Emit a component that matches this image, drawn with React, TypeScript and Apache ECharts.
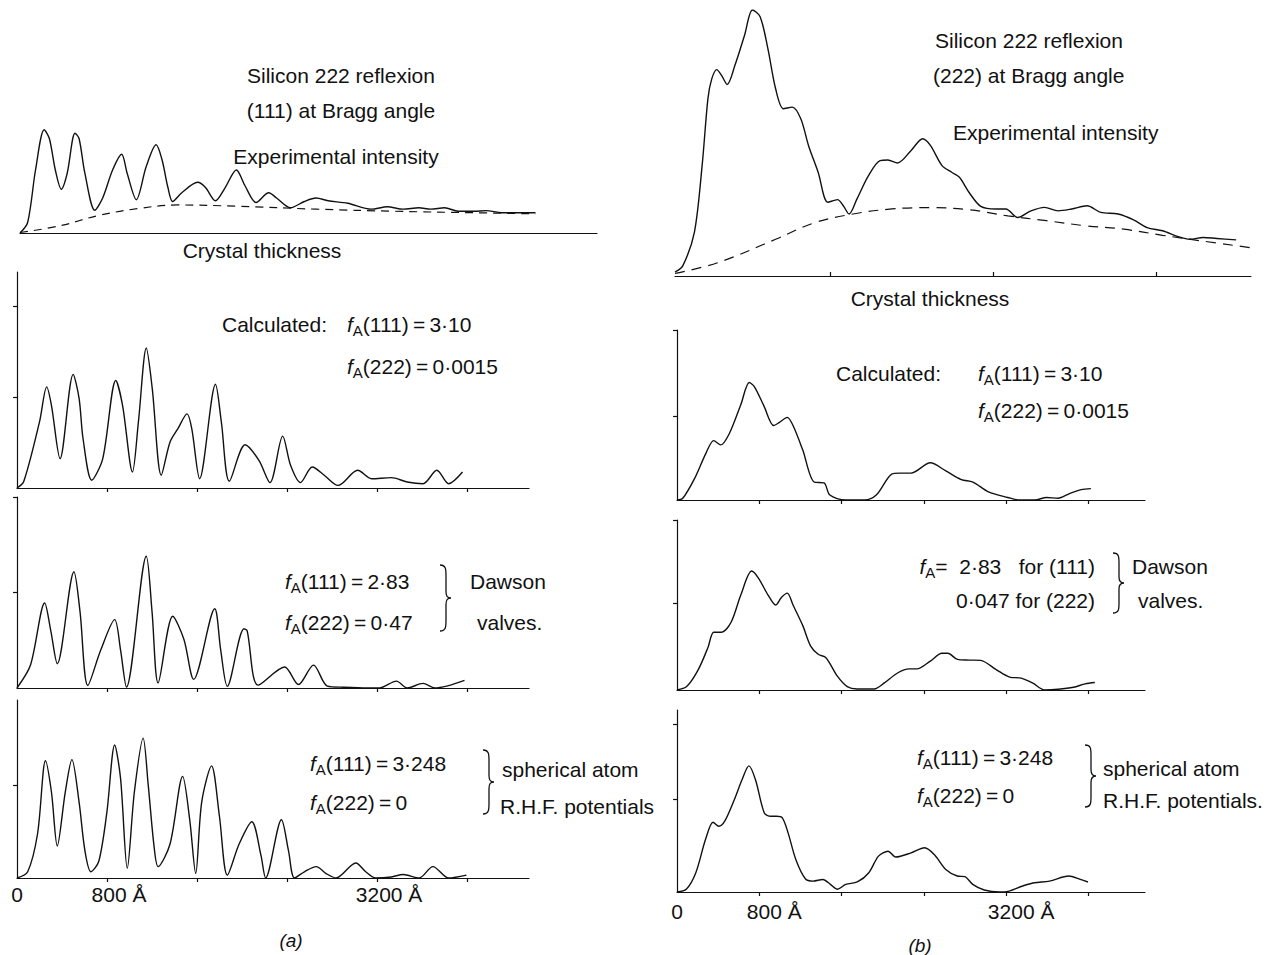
import React, { useEffect, useRef } from "react";
import * as echarts from "echarts";

// ---------- data (x in Å, y = relative intensity, 1 = top of the panel's axis) ----------
const expLeft = [
  [0, 0], [68, 0.1], [138, 0.6], [215, 0.983], [261, 0.9], [314, 0.6], [367, 0.417], [419, 0.567],
  [489, 0.95], [525, 0.9], [577, 0.567], [665, 0.217], [735, 0.333], [823, 0.6], [904, 0.75],
  [953, 0.567], [1034, 0.317], [1122, 0.633], [1210, 0.84], [1262, 0.7], [1315, 0.433], [1357, 0.3],
  [1438, 0.383], [1579, 0.483], [1649, 0.433], [1737, 0.307], [1824, 0.433], [1923, 0.6], [2000, 0.45],
  [2099, 0.29], [2211, 0.383], [2281, 0.333], [2404, 0.24], [2527, 0.3], [2632, 0.333], [2738, 0.307],
  [2913, 0.283], [3124, 0.227], [3265, 0.25], [3405, 0.227], [3546, 0.24], [3651, 0.227], [3774, 0.24],
  [3897, 0.207], [4038, 0.207], [4143, 0.213], [4284, 0.193], [4582, 0.193],
];
const expLeftBackground = [
  [0, 0.005], [349, 0.067], [700, 0.167], [1052, 0.233], [1403, 0.267], [1930, 0.255], [2632, 0.227],
  [3335, 0.207], [4038, 0.193], [4582, 0.183],
];
const calcLeft = [
  [0, 0], [60, 0.03], [200, 0.306], [264, 0.468], [306, 0.383], [383, 0.136], [499, 0.526], [552, 0.414],
  [587, 0.228], [664, 0.036], [762, 0.136], [878, 0.498], [938, 0.383], [1026, 0.074], [1079, 0.306],
  [1149, 0.648], [1202, 0.46], [1282, 0.059], [1360, 0.213], [1430, 0.275], [1511, 0.343], [1553, 0.275],
  [1623, 0.043], [1764, 0.48], [1816, 0.306], [1887, 0.031], [2027, 0.2], [2150, 0.128], [2248, 0.025],
  [2361, 0.24], [2431, 0.105], [2519, 0.025], [2624, 0.097], [2730, 0.059], [2853, 0.012], [3028, 0.082],
  [3151, 0.043], [3327, 0.048], [3467, 0.028], [3608, 0.02], [3731, 0.082], [3836, 0.02], [3959, 0.074],
];
const dawsonLeft = [
  [0, 0], [120, 0.12], [246, 0.445], [300, 0.3], [358, 0.127], [506, 0.609], [560, 0.4], [629, 0.013],
  [745, 0.2], [868, 0.358], [920, 0.2], [973, 0.005], [1149, 0.69], [1200, 0.4], [1254, 0.027], [1384, 0.376],
  [1483, 0.255], [1570, 0.045], [1757, 0.415], [1810, 0.2], [1869, 0.009], [2017, 0.31], [2045, 0.3],
  [2143, 0.015], [2378, 0.11], [2501, 0.018], [2635, 0.12], [2758, 0.01], [2905, 0.004], [3116, 0.0],
  [3221, 0.0], [3372, 0.036], [3467, 0.0], [3608, 0.024], [3713, 0.0], [3977, 0.04],
];
const rhfLeft = [
  [0, 0], [95, 0.035], [183, 0.25], [253, 0.659], [306, 0.483], [358, 0.18], [429, 0.483], [488, 0.665],
  [552, 0.425], [604, 0.152], [657, 0.035], [727, 0.094], [798, 0.366], [868, 0.747], [920, 0.561],
  [980, 0.055], [1043, 0.483], [1121, 0.786], [1166, 0.523], [1219, 0.172], [1254, 0.064], [1360, 0.191],
  [1472, 0.571], [1535, 0.327], [1588, 0.025], [1641, 0.425], [1729, 0.63], [1799, 0.347], [1869, 0.016],
  [1974, 0.191], [2087, 0.316], [2168, 0.127], [2210, 0.0], [2350, 0.327], [2413, 0.152], [2466, 0.0],
  [2554, 0.035], [2659, 0.064], [2747, 0.025], [2835, 0.0], [3011, 0.084], [3099, 0.035], [3186, 0.0],
  [3327, 0.006], [3432, 0.02], [3573, 0.0], [3696, 0.064], [3836, 0.0], [3994, 0.016],
];
const expRight = [
  [0, 0.015], [76, 0.038], [190, 0.164], [266, 0.415], [323, 0.667], [361, 0.742], [410, 0.776], [455, 0.755],
  [512, 0.72], [588, 0.792], [683, 0.906], [759, 1.0], [835, 0.975], [911, 0.855], [987, 0.704], [1063, 0.629],
  [1150, 0.635], [1234, 0.591], [1310, 0.49], [1404, 0.39], [1499, 0.277], [1594, 0.287], [1651, 0.264],
  [1708, 0.233], [1784, 0.289], [1898, 0.377], [2012, 0.434], [2088, 0.436], [2183, 0.425], [2316, 0.472],
  [2429, 0.516], [2505, 0.491], [2619, 0.415], [2714, 0.39], [2790, 0.371], [2885, 0.314], [2999, 0.262],
  [3151, 0.252], [3246, 0.252], [3360, 0.22], [3492, 0.245], [3625, 0.258], [3758, 0.245], [3891, 0.252],
  [4043, 0.264], [4176, 0.239], [4346, 0.233], [4498, 0.211], [4631, 0.182], [4783, 0.17], [4935, 0.148],
  [5049, 0.138], [5182, 0.145], [5314, 0.141], [5504, 0.136],
];
const expRightBackground = [
  [0, 0.01], [418, 0.05], [987, 0.138], [1367, 0.2], [1746, 0.233], [2126, 0.252], [2505, 0.257],
  [2885, 0.249], [3265, 0.226], [3644, 0.208], [4024, 0.189], [4403, 0.176], [4783, 0.153], [5163, 0.132],
  [5637, 0.107],
];
const calcRight = [
  [0, 0], [56, 0.01], [169, 0.124], [282, 0.276], [357, 0.349], [425, 0.324], [508, 0.39], [621, 0.562],
  [703, 0.691], [752, 0.667], [846, 0.552], [940, 0.438], [997, 0.457], [1072, 0.486], [1128, 0.438],
  [1222, 0.295], [1335, 0.105], [1429, 0.101], [1486, 0.029], [1636, 0.0], [1824, 0.0], [1937, 0.029],
  [2087, 0.152], [2163, 0.158], [2275, 0.158], [2463, 0.219], [2614, 0.171], [2764, 0.12], [2877, 0.105],
  [3028, 0.048], [3216, 0.015], [3328, 0.0], [3479, 0.0], [3592, 0.015], [3705, 0.01], [3817, 0.038],
  [3930, 0.061], [4024, 0.067],
];
const dawsonRight = [
  [0, 0], [94, 0.02], [207, 0.12], [301, 0.25], [357, 0.34], [432, 0.34], [527, 0.4], [621, 0.56],
  [726, 0.7], [790, 0.66], [884, 0.56], [959, 0.5], [1015, 0.544], [1072, 0.57], [1128, 0.5], [1222, 0.38],
  [1298, 0.26], [1373, 0.21], [1448, 0.19], [1561, 0.08], [1655, 0.02], [1749, 0.006], [1918, 0.006],
  [2012, 0.04], [2144, 0.1], [2257, 0.124], [2332, 0.124], [2463, 0.17], [2576, 0.216], [2633, 0.216],
  [2727, 0.18], [2840, 0.176], [2952, 0.174], [3103, 0.12], [3234, 0.076], [3347, 0.07], [3460, 0.04],
  [3573, 0.0], [3705, 0.004], [3855, 0.016], [3968, 0.036], [4062, 0.044],
];
const rhfRight = [
  [0, 0], [90, 0.015], [183, 0.106], [277, 0.288], [351, 0.383], [407, 0.361], [464, 0.389], [557, 0.507],
  [632, 0.617], [699, 0.693], [763, 0.617], [849, 0.434], [912, 0.416], [968, 0.416], [1024, 0.407],
  [1080, 0.325], [1155, 0.179], [1248, 0.073], [1323, 0.06], [1417, 0.069], [1491, 0.042], [1559, 0.015],
  [1641, 0.042], [1753, 0.055], [1865, 0.106], [1959, 0.197], [2052, 0.224], [2127, 0.192], [2276, 0.215],
  [2407, 0.243], [2501, 0.206], [2613, 0.124], [2725, 0.088], [2800, 0.084], [2875, 0.042], [2987, 0.011],
  [3136, 0.0], [3230, 0.005], [3361, 0.033], [3473, 0.051], [3622, 0.06], [3809, 0.088], [3921, 0.069],
  [3996, 0.055],
];

// tick positions and labels
const thicknessTicks = [800, 1600, 2400, 3200, 4000];
const topRightTicks = [1518, 3120, 4718];
const bottomLabelValues = [0, 800, 3200];
const bottomLabelTexts = ["0", "800 Å", "3200 Å"];
const yTicksLeft = [[0.42, 0.84], [0.5, 1], [0.52]];
const yTicksRight = [[0.49, 1], [0.51, 1], [0.51, 0.92]];

// ---------- shapes ----------
const BRACE_D =
  "M0,0 C6,0 6,4 6,10 L6,24 C6,28 7,30 11,30 C7,30 6,32 6,36 L6,50 C6,56 6,60 0,60";
echarts.graphic.registerShape("brace", echarts.graphic.extendPath(BRACE_D, {}));

const FONT = '"Liberation Sans", Arial, Helvetica, sans-serif';
const INK = "#111111";
const FS = 21;
const EQ = "\u2009=\u2009";

const richFA = {
  f: { fontFamily: FONT, fontStyle: "italic", fontSize: FS, lineHeight: 28, fill: INK },
  s: { fontFamily: FONT, fontSize: 15, lineHeight: 15, verticalAlign: "bottom", fill: INK },
  n: { fontFamily: FONT, fontSize: FS, lineHeight: 28, fill: INK },
};

function fa(rest: string) {
  return "{f|f}{s|A}{n|" + rest + "}";
}

function txt(text: string, x: number, y: number, align = "left", extra: any = {}) {
  return {
    type: "text",
    x,
    y,
    silent: true,
    style: {
      text,
      fill: INK,
      fontFamily: FONT,
      fontSize: FS,
      align,
      verticalAlign: "middle",
      ...extra,
    },
  };
}
function ftxt(rest: string, x: number, y: number, align = "left") {
  return txt(fa(rest), x, y, align, { rich: richFA });
}
function brace(x: number, y: number, h: number) {
  return {
    type: "brace",
    x,
    y,
    scaleY: h / 60,
    silent: true,
    style: { stroke: INK, fill: "none", lineWidth: 1.3 },
  };
}

export default function App() {
  const ref = useRef<HTMLDivElement>(null);

  useEffect(() => {
    if (!ref.current) return;
    const chart = echarts.init(ref.current, null, { renderer: "svg" });

    const grids = [
      { left: 20, top: 128, width: 577, height: 105 },
      { left: 17, top: 272, width: 512, height: 216 },
      { left: 17, top: 497, width: 512, height: 191 },
      { left: 17, top: 700, width: 512, height: 178 },
      { left: 675, top: 10, width: 576, height: 266 },
      { left: 677, top: 330, width: 468, height: 170 },
      { left: 677, top: 520, width: 468, height: 170 },
      { left: 677, top: 710, width: 468, height: 182 },
    ];
    const xMax = [5129, 4550, 4550, 4550, 5650, 4550, 4550, 4550];
    const axisLineStyle = { color: INK, width: 1.2 };

    const xAxes = grids.map((_, i) => {
      const isTop = i === 0 || i === 4;
      const isBottom = i === 3 || i === 7;
      const ticks = i === 0 ? [] : i === 4 ? topRightTicks : thicknessTicks;
      return {
        gridIndex: i,
        type: "value",
        min: 0,
        max: xMax[i],
        axisLine: { show: true, onZero: false, lineStyle: axisLineStyle },
        axisTick: {
          show: ticks.length > 0,
          customValues: ticks,
          length: 4,
          inside: isTop,
          lineStyle: axisLineStyle,
        },
        axisLabel: isBottom
          ? {
              show: true,
              customValues: bottomLabelValues,
              margin: i === 3 ? 6 : 9,
              formatter: (v: number) => {
                const k = bottomLabelValues.indexOf(v);
                const t = k >= 0 ? bottomLabelTexts[k] : "";
                return v === 0 ? "{z|" + t + "}" : "{o|" + t + "}";
              },
              rich: {
                z: { fontFamily: FONT, fontSize: 21, color: INK },
                o: { fontFamily: FONT, fontSize: 21, color: INK, padding: [0, 0, 0, i === 3 ? 24 : 30] },
              },
            }
          : { show: false },
        splitLine: { show: false },
      };
    });

    const yTickList = [[], ...yTicksLeft, [], ...yTicksRight];
    const yAxes = grids.map((_, i) => {
      const isTop = i === 0 || i === 4;
      return {
        gridIndex: i,
        type: "value",
        min: 0,
        max: 1,
        axisLine: { show: !isTop, onZero: false, lineStyle: axisLineStyle },
        axisTick: {
          show: !isTop,
          customValues: yTickList[i],
          length: 4,
          lineStyle: axisLineStyle,
        },
        axisLabel: { show: false },
        splitLine: { show: false },
      };
    });

    const curves = [expLeft, calcLeft, dawsonLeft, rhfLeft, expRight, calcRight, dawsonRight, rhfRight];
    const series: any[] = curves.map((d, i) => ({
      type: "line",
      xAxisIndex: i,
      yAxisIndex: i,
      data: d,
      smooth: 0.3,
      showSymbol: false,
      symbol: "none",
      silent: true,
      lineStyle: { color: INK, width: 1.4 },
    }));
    series.push(
      {
        type: "line",
        xAxisIndex: 0,
        yAxisIndex: 0,
        data: expLeftBackground,
        smooth: 0.4,
        showSymbol: false,
        symbol: "none",
        silent: true,
        lineStyle: { color: INK, width: 1.2, type: [8, 6] },
      },
      {
        type: "line",
        xAxisIndex: 4,
        yAxisIndex: 4,
        data: expRightBackground,
        smooth: 0.4,
        showSymbol: false,
        symbol: "none",
        silent: true,
        lineStyle: { color: INK, width: 1.2, type: [10, 7] },
      }
    );

    const elements: any[] = [
      // left column
      txt("Silicon 222 reflexion", 341, 75, "center"),
      txt("(111) at Bragg angle", 341, 110, "center"),
      txt("Experimental intensity", 336, 156, "center"),
      txt("Crystal thickness", 262, 250, "center"),
      txt("Calculated:", 222, 324),
      ftxt("(111)" + EQ + "3·10", 347, 324),
      ftxt("(222)" + EQ + "0·0015", 347, 366),
      ftxt("(111)" + EQ + "2·83", 285, 581),
      ftxt("(222)" + EQ + "0·47", 285, 622),
      brace(440, 565, 66),
      txt("Dawson", 470, 581),
      txt("valves.", 477, 622),
      ftxt("(111)" + EQ + "3·248", 310, 763),
      ftxt("(222)" + EQ + "0", 310, 802),
      brace(483, 750, 64),
      txt("spherical atom", 502, 769),
      txt("R.H.F. potentials", 500, 806),
      txt("(a)", 291, 940, "center", { fontStyle: "italic", fontSize: 19 }),
      // right column
      txt("Silicon 222 reflexion", 935, 40),
      txt("(222) at Bragg angle", 933, 75),
      txt("Experimental intensity", 953, 132),
      txt("Crystal thickness", 930, 298, "center"),
      txt("Calculated:", 836, 373),
      ftxt("(111)" + EQ + "3·10", 978, 373),
      ftxt("(222)" + EQ + "0·0015", 978, 410),
      txt("{f|f}{s|A}{n|=  2·83   for (111)}", 1095, 566, "right", { rich: richFA }),
      txt("0·047 for (222)", 1095, 600, "right"),
      brace(1113, 553, 60),
      txt("Dawson", 1132, 566),
      txt("valves.", 1138, 600),
      ftxt("(111)" + EQ + "3·248", 917, 757),
      ftxt("(222)" + EQ + "0", 917, 795),
      brace(1085, 745, 62),
      txt("spherical atom", 1103, 768),
      txt("R.H.F. potentials.", 1103, 800),
      txt("(b)", 920, 945, "center", { fontStyle: "italic", fontSize: 19 }),
    ];

    chart.setOption({
      animation: false,
      backgroundColor: "#ffffff",
      grid: grids.map((g) => ({ ...g, containLabel: false })),
      xAxis: xAxes,
      yAxis: yAxes,
      series,
      graphic: { elements },
    });

    return () => chart.dispose();
  }, []);

  return (
    <div
      ref={ref}
      style={{ position: "absolute", left: 0, top: 0, width: 1267, height: 955, background: "#fff" }}
    />
  );
}
